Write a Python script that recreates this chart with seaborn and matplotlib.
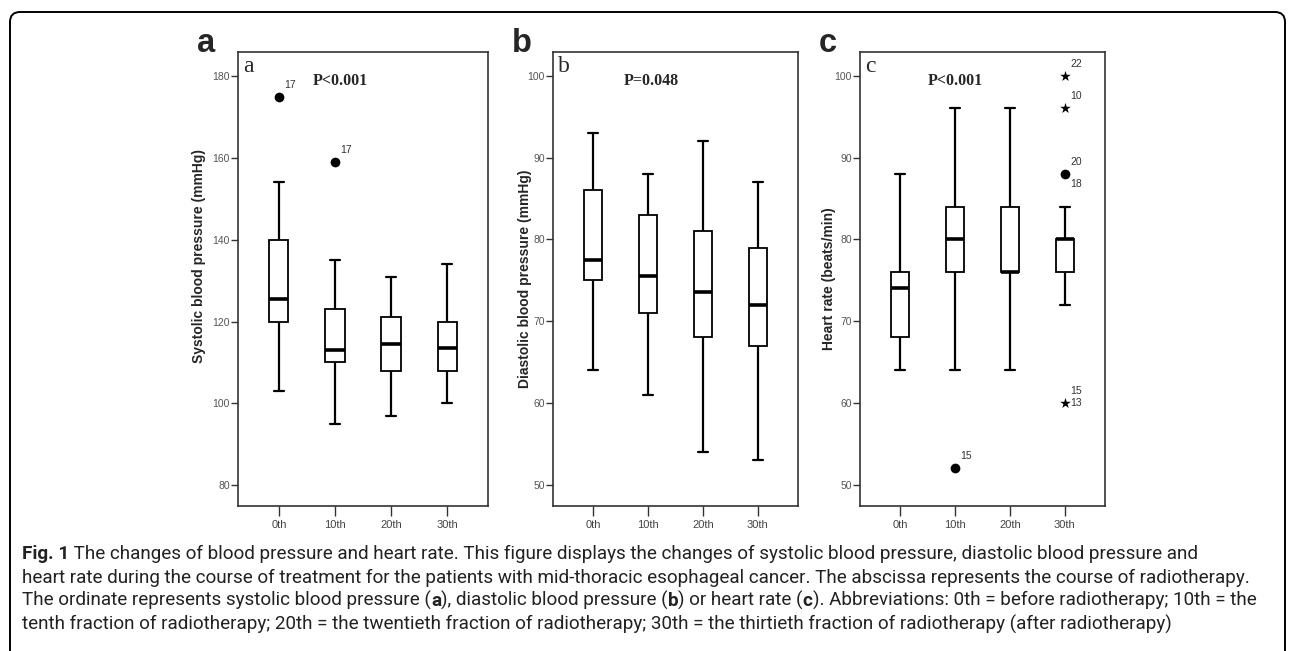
import numpy as np
import pandas as pd
import matplotlib
matplotlib.use('Agg')
import matplotlib.pyplot as plt
import matplotlib.transforms as mtransforms
from matplotlib import font_manager
from matplotlib.patches import FancyBboxPatch
from matplotlib.text import Annotation
import seaborn as sns

# --- données ---
order = ['0th', '10th', '20th', '30th']

# a: pression systolique (mmHg) - min, Q1, médiane, Q3, max (moustaches)
sys_lo = [103, 95, 97, 100]
sys_q1 = [120, 110, 108, 108]
sys_med = [125.5, 113, 114.5, 113.5]
sys_q3 = [140, 123, 121, 120]
sys_hi = [154, 135, 131, 134]
sys_out_grp = ['0th', '10th']
sys_out_val = [175, 159]
sys_out_mark = ['o', 'o']
sys_out_lab = ['17', '17']
sys_out_lab2 = ['', '']

# b: pression diastolique (mmHg)
dia_lo = [64, 61, 54, 53]
dia_q1 = [75, 71, 68, 67]
dia_med = [77.5, 75.5, 73.5, 72]
dia_q3 = [86, 83, 81, 79]
dia_hi = [93, 88, 92, 87]

# c: fréquence cardiaque (battements/min)
hr_lo = [64, 64, 64, 72]
hr_q1 = [68, 76, 76, 76]
hr_med = [74, 80, 76, 80]
hr_q3 = [76, 84, 84, 80]
hr_hi = [88, 96, 96, 84]
hr_out_grp = ['10th', '30th', '30th', '30th', '30th']
hr_out_val = [52, 100, 96, 88, 60]
hr_out_mark = ['o', '*', '*', 'o', '*']
hr_out_lab = ['15', '22', '10', '20', '15']
hr_out_lab2 = ['', '', '', '18', '13']

caption = [
    [("Fig. 1", 'bold'), (" The changes of blood pressure and heart rate. This figure displays the changes of systolic blood pressure, diastolic blood pressure and", 'normal')],
    [("heart rate during the course of treatment for the patients with mid-thoracic esophageal cancer. The abscissa represents the course of radiotherapy.", 'normal')],
    [("The ordinate represents systolic blood pressure (", 'normal'), ("a", 'bold'), ("), diastolic blood pressure (", 'normal'), ("b", 'bold'),
     (") or heart rate (", 'normal'), ("c", 'bold'), ("). Abbreviations: 0th = before radiotherapy; 10th = the", 'normal')],
    [("tenth fraction of radiotherapy; 20th = the twentieth fraction of radiotherapy; 30th = the thirtieth fraction of radiotherapy (after radiotherapy)", 'normal')],
]

sns.set_theme(style='ticks')
plt.rcParams['font.family'] = ['Liberation Sans', 'DejaVu Sans']

W, H = 1292, 651
fig = plt.figure(figsize=(W / 100, H / 100), dpi=100)


def fx(px):
    return px / W


def fy(py):
    return 1 - py / H


def draw_panel(ax, lo, q1, med, q3, hi, ylim, yticks, ylabel, label_pos,
               out_grp=(), out_val=(), out_mark=(), out_lab=(), out_lab2=(), ylabel_weight='bold'):
    vals = np.column_stack([lo, q1, med, q3, hi]).ravel()
    df = pd.DataFrame({'course': np.repeat(order, 5), 'value': vals})
    sns.boxplot(data=df, x='course', y='value', order=order, whis=(0, 100), width=0.34,
                color='white', linecolor='black', linewidth=1.3, showfliers=False,
                medianprops=dict(linewidth=2.6, color='black'),
                whiskerprops=dict(linewidth=1.6), capprops=dict(linewidth=1.6), ax=ax)

    # valeurs extrêmes (ronds et étoiles)
    for mk, sz in [('o', 7), ('*', 8)]:
        g = [a for a, m in zip(out_grp, out_mark) if m == mk]
        v = [b for b, m in zip(out_val, out_mark) if m == mk]
        if g:
            sns.stripplot(x=g, y=v, order=order, jitter=False, marker=mk, color='black',
                          size=sz, linewidth=0, ax=ax)
    for g, v, l1, l2 in zip(out_grp, out_val, out_lab, out_lab2):
        xpos = order.index(g)
        ax.annotate(l1, (xpos, v), xytext=(4, 5), textcoords='offset points',
                    fontsize=7.5, color='#333333', ha='left', va='bottom')
        if l2:
            dy = -4 if l1 == '20' else 0
            ax.annotate(l2, (xpos, v), xytext=(4, dy), textcoords='offset points',
                        fontsize=7.5, color='#333333', ha='left', va='top' if dy else 'center')

    ax.set_xlim(-0.73, 3.73)
    ax.set_ylim(*ylim)
    ax.set_yticks(yticks)
    ax.set_xlabel('')
    ax.set_ylabel(ylabel, fontsize=10, fontweight=ylabel_weight)
    ax.yaxis.set_label_coords(*label_pos)
    ax.tick_params(axis='y', length=5, width=1, color='#333333', labelcolor='#555555',
                   labelsize=7.5, pad=1)
    ax.tick_params(axis='x', length=7, width=1, color='#333333', labelcolor='#444444',
                   labelsize=8, pad=3)
    for s in ax.spines.values():
        s.set_visible(True)
        s.set_color('#333333')
        s.set_linewidth(1.2)
    return ax


# positions des axes (pixels de l'image de référence)
boxes = [(238, 488), (553, 798), (860, 1105)]
top, bottom = 52, 506
axes = []
for l, r in boxes:
    axes.append(fig.add_axes([fx(l), fy(bottom), (r - l) / W, (bottom - top) / H]))

draw_panel(axes[0], sys_lo, sys_q1, sys_med, sys_q3, sys_hi, (74.9, 185.9), range(80, 181, 20),
           'Systolic blood pressure (mmHg)', (-0.13, 0.55),
           sys_out_grp, sys_out_val, sys_out_mark, sys_out_lab, sys_out_lab2)
draw_panel(axes[1], dia_lo, dia_q1, dia_med, dia_q3, dia_hi, (47.4, 102.9), range(50, 101, 10),
           'Diastolic blood pressure (mmHg)', (-0.085, 0.5))
draw_panel(axes[2], hr_lo, hr_q1, hr_med, hr_q3, hr_hi, (47.4, 102.9), range(50, 101, 10),
           'Heart rate (beats/min)', (-0.1, 0.5),
           hr_out_grp, hr_out_val, hr_out_mark, hr_out_lab, hr_out_lab2, ylabel_weight='semibold')

# lettres des panneaux et valeurs de P
for ax, (l, r), big, pt, px in zip(axes, boxes, ['a', 'b', 'c'],
                                   ['P<0.001', 'P=0.048', 'P<0.001'], [0.41, 0.40, 0.39]):
    fig.text(fx(l - 41), fy(52), big, fontsize=23.5, fontweight='bold', va='baseline',
             family='Liberation Sans')
    ax.text(0.02, (bottom - 72) / (bottom - top), big, transform=ax.transAxes,
            fontsize=17, family='Liberation Serif', va='baseline')
    ax.text(px, (bottom - 85) / (bottom - top), pt, transform=ax.transAxes, ha='center',
            fontsize=11.5, fontweight='bold', family='Liberation Serif', va='baseline')

# cadre arrondi autour de la figure
frame = FancyBboxPatch((10, -30), 1275, H - 12 + 30,
                       boxstyle='round,pad=0,rounding_size=10',
                       transform=mtransforms.IdentityTransform(),
                       fill=False, edgecolor='black', linewidth=1.4)
fig.add_artist(frame)

# légende (caption) - police étroite si disponible
cap_family = 'Roboto'
for cand in ['Liberation Sans Narrow', 'Roboto']:
    try:
        font_manager.findfont(cand, fallback_to_default=False)
        cap_family = cand
        break
    except ValueError:
        pass

# taille de police pour que la ligne la plus longue tienne dans la largeur
renderer = fig.canvas.get_renderer()
widest = 0
for line in caption:
    tmp = fig.text(0, 0, ''.join(p for p, _ in line), fontsize=10, family=cap_family)
    widest = max(widest, tmp.get_window_extent(renderer).width)
    tmp.remove()
cap_fs = 10 * 1236 / widest

baselines = [559, 583, 606, 630]
for line, yb in zip(caption, baselines):
    prev = fig.text(fx(22), fy(yb), line[0][0], fontsize=cap_fs, fontweight=line[0][1],
                    family=cap_family, va='baseline', color='#222222')
    for piece, wgt in line[1:]:
        ann = Annotation(piece, xy=(1, fy(yb)), xycoords=(prev, fig.transFigure),
                         fontsize=cap_fs, fontweight=wgt, family=cap_family,
                         va='baseline', ha='left', color='#222222')
        fig.add_artist(ann)
        prev = ann

plt.savefig('out.png', dpi=100)
print("Graphique sauvegardé : out.png", cap_family, cap_fs)
